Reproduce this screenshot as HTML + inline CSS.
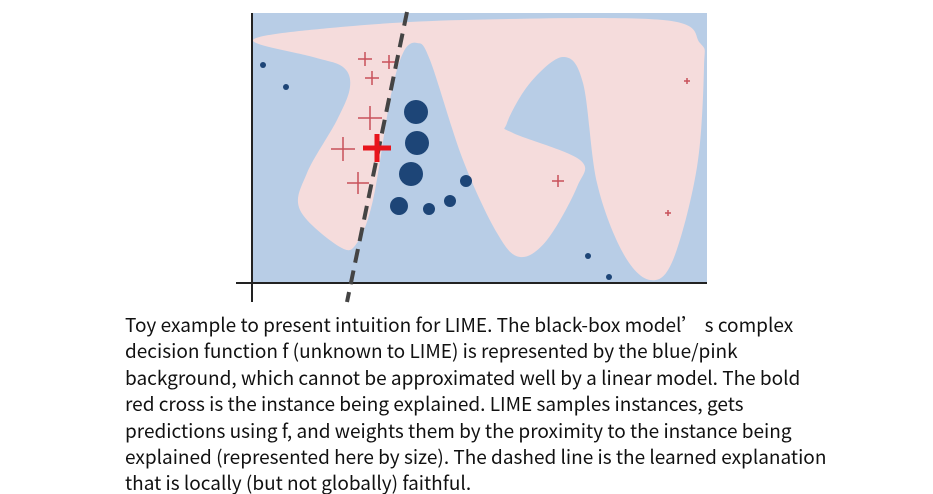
<!DOCTYPE html>
<html><head><meta charset="utf-8">
<style>
html,body{margin:0;padding:0;background:#fff;width:933px;height:494px;overflow:hidden;position:relative}
.t{position:absolute;left:125px;font-family:"Noto Sans CJK SC","Liberation Sans",sans-serif;font-size:19px;color:#111;white-space:nowrap;line-height:27px}
</style></head><body>
<svg width="933" height="310" style="position:absolute;left:0;top:0">
<defs><clipPath id="c"><rect x="252" y="13" width="455" height="270"/></clipPath></defs>
<rect x="252" y="13" width="455" height="270" fill="#b8cde6"/>
<path id="pk" clip-path="url(#c)" fill="#f5dcdc" d="M253,40 L330,28 L463,20 L663,20 L700,43 L704,67 L697,167 L673,260 L650,280 L623,253 L597,183 L583,83 L563,57 L530,83 L507,123 L513,133 L580,160 L577,187 L547,240 L520,257 L497,233 L463,160 L430,60 L417,43 L403,53 L390,100 L373,200 L357,243 L340,247 L300,210 L307,173 L337,120 L350,87 L343,67 L313,57 Z"/>
<line x1="252" y1="13" x2="252" y2="302" stroke="#222" stroke-width="2"/>
<line x1="236" y1="283" x2="707" y2="283" stroke="#222" stroke-width="2"/>
<g fill="#1d4577">
<circle cx="263" cy="65" r="3"/><circle cx="286" cy="87" r="3"/>
<circle cx="416" cy="112" r="12"/><circle cx="417" cy="143" r="12"/><circle cx="411" cy="174" r="12"/>
<circle cx="399" cy="206" r="9"/><circle cx="429" cy="209" r="6"/><circle cx="450" cy="201" r="6"/><circle cx="466" cy="181" r="6"/>
<circle cx="588" cy="256" r="3"/><circle cx="609" cy="277" r="3"/>
</g>
<g stroke="#c8505a" stroke-width="1.5" fill="none">
<path d="M358,59h14M365,52v14"/><path d="M382,62h14M389,55v14"/><path d="M365,78h14M372,71v14"/>
<path d="M358,118h24M370,106v24"/><path d="M331,149h24M343,137v24"/><path d="M347,183h22M358,172v22"/>
<path d="M552,181h12M558,175v12"/><path d="M684,81h6M687,78v6"/><path d="M665,213h6M668,210v6"/>
</g>
<line x1="407" y1="12" x2="347" y2="302" stroke="#444" stroke-width="4" stroke-dasharray="14,8"/>
<path d="M363,148h28M377,134v28" stroke="#e8141c" stroke-width="5" fill="none"/>
</svg>
<div class="t" style="top:311px">Toy example to present intuition for LIME. The black-box model’ s complex</div>
<div class="t" style="top:337px">decision function f (unknown to LIME) is represented by the blue/pink</div>
<div class="t" style="top:364px">background, which cannot be approximated well by a linear model. The bold</div>
<div class="t" style="top:390px">red cross is the instance being explained. LIME samples instances, gets</div>
<div class="t" style="top:417px">predictions using f, and weights them by the proximity to the instance being</div>
<div class="t" style="top:443px">explained (represented here by size). The dashed line is the learned explanation</div>
<div class="t" style="top:469px">that is locally (but not globally) faithful.</div>
<script>
(function(){var p=document.getElementById('pk');var d=p.getAttribute('d');var n=d.match(/-?[\d.]+/g).map(Number);var pts=[];for(var i=0;i<n.length;i+=2)pts.push([n[i],n[i+1]]);var L=pts.length,s='M'+pts[0][0]+','+pts[0][1];for(var i=0;i<L;i++){var p0=pts[(i-1+L)%L],p1=pts[i],p2=pts[(i+1)%L],p3=pts[(i+2)%L];s+=' C'+(p1[0]+(p2[0]-p0[0])/6)+','+(p1[1]+(p2[1]-p0[1])/6)+' '+(p2[0]-(p3[0]-p1[0])/6)+','+(p2[1]-(p3[1]-p1[1])/6)+' '+p2[0]+','+p2[1];}p.setAttribute('d',s+'Z');})();
</script>
</body></html>
